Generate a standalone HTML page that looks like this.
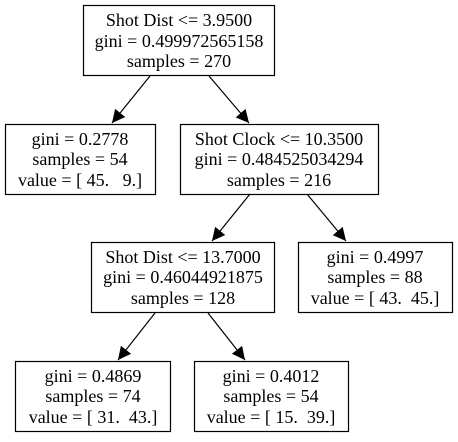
<!DOCTYPE html>
<html><head><style>
body{margin:0;background:#fff;}
svg text{font-family:"Liberation Serif",serif;font-size:18px;text-anchor:middle;fill:#000;}
</style></head><body>
<svg width="458" height="437" xmlns="http://www.w3.org/2000/svg">
<defs><marker id="a" markerWidth="14" markerHeight="14" refX="13" refY="6.5" orient="auto" markerUnits="userSpaceOnUse"><path d="M0,0 L13,6.5 L0,13 z" fill="#000"/></marker></defs>
<g fill="none" stroke="#000" stroke-width="1.2">
<rect x="83.5" y="5.5" width="191" height="70"/>
<rect x="5.5" y="124.5" width="150" height="70"/>
<rect x="180.5" y="124.5" width="198" height="70"/>
<rect x="91.5" y="242.5" width="183" height="70"/>
<rect x="298.5" y="242.5" width="154" height="70"/>
<rect x="15.5" y="361.5" width="155" height="70"/>
<rect x="194.5" y="361.5" width="154" height="70"/>
<line x1="150" y1="76" x2="112" y2="123" marker-end="url(#a)"/>
<line x1="209" y1="76" x2="249" y2="123" marker-end="url(#a)"/>
<line x1="250" y1="194" x2="212" y2="241" marker-end="url(#a)"/>
<line x1="307" y1="194" x2="346" y2="241" marker-end="url(#a)"/>
<line x1="155" y1="313" x2="118" y2="360" marker-end="url(#a)"/>
<line x1="208" y1="313" x2="245" y2="360" marker-end="url(#a)"/>
</g>
<text x="179" y="26">Shot Dist &lt;= 3.9500</text>
<text x="179" y="47">gini = 0.499972565158</text>
<text x="179" y="67">samples = 270</text>
<text x="80" y="145">gini = 0.2778</text>
<text x="80" y="165">samples = 54</text>
<text x="80" y="186" xml:space="preserve">value = [ 45.   9.]</text>
<text x="279" y="145">Shot Clock &lt;= 10.3500</text>
<text x="279" y="165">gini = 0.484525034294</text>
<text x="279" y="186">samples = 216</text>
<text x="183" y="263">Shot Dist &lt;= 13.7000</text>
<text x="183" y="283">gini = 0.46044921875</text>
<text x="183" y="304">samples = 128</text>
<text x="375" y="263">gini = 0.4997</text>
<text x="375" y="283">samples = 88</text>
<text x="375" y="304" xml:space="preserve">value = [ 43.  45.]</text>
<text x="93" y="382">gini = 0.4869</text>
<text x="93" y="402">samples = 74</text>
<text x="93" y="423" xml:space="preserve">value = [ 31.  43.]</text>
<text x="271" y="382">gini = 0.4012</text>
<text x="271" y="402">samples = 54</text>
<text x="271" y="423" xml:space="preserve">value = [ 15.  39.]</text>
</svg>
</body></html>
